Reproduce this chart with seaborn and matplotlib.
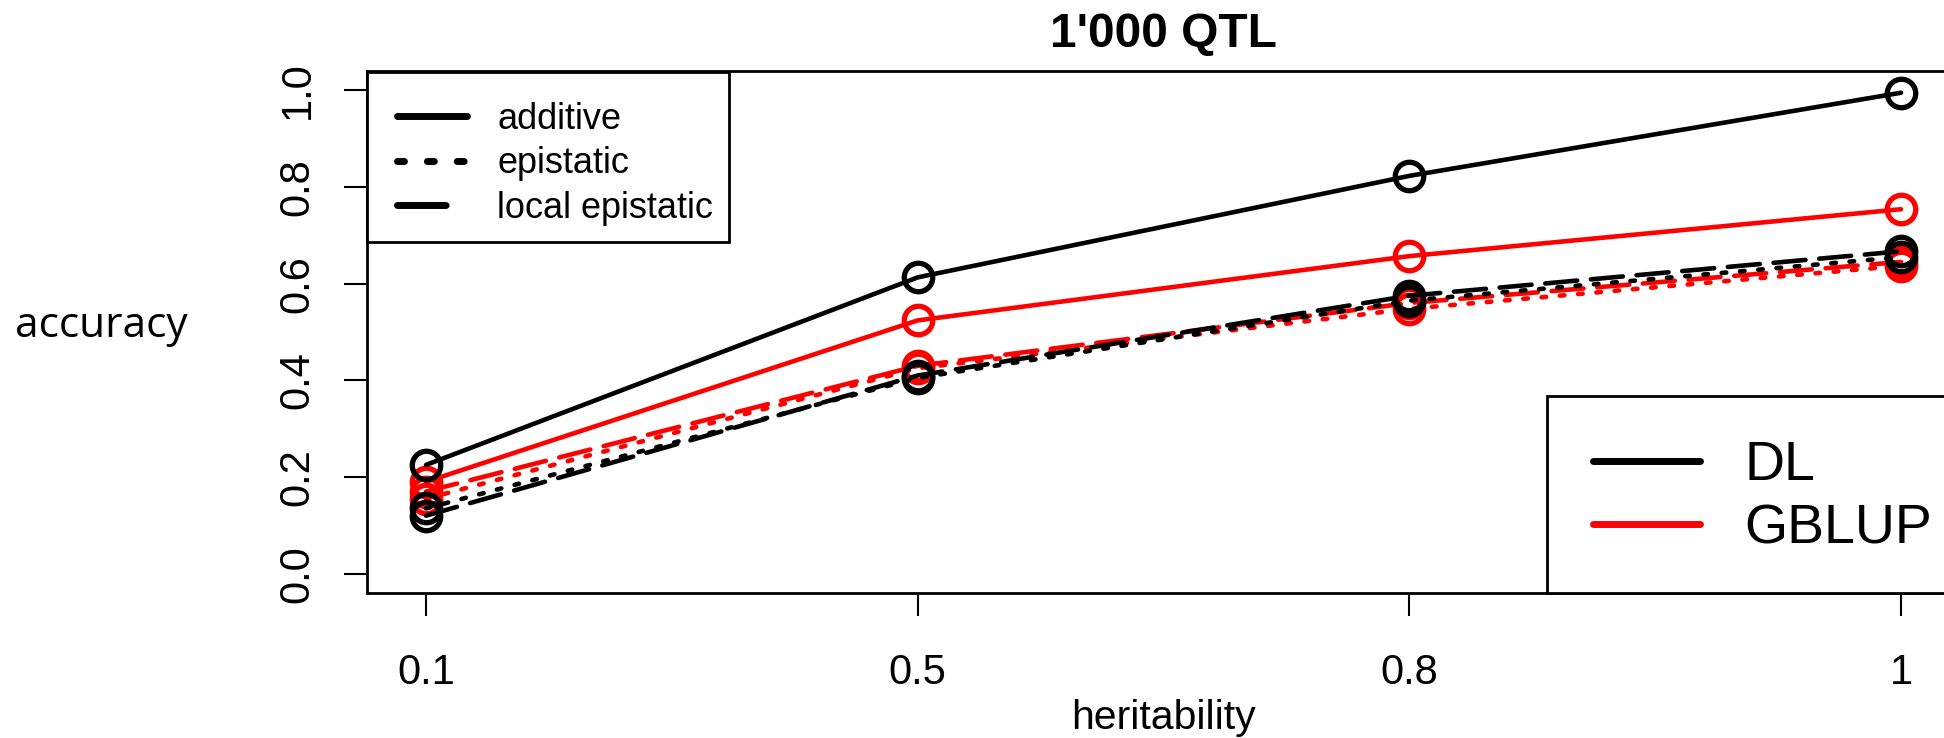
import numpy as np
import pandas as pd
import matplotlib
matplotlib.use("Agg")
import matplotlib.pyplot as plt
from matplotlib.lines import Line2D
from matplotlib.patches import Rectangle
import seaborn as sns

# ── Data ───────────────────────────────
heritability = ["0.1", "0.5", "0.8", "1"]

dl_additive = [0.225, 0.613, 0.823, 0.995]
dl_epistatic = [0.135, 0.405, 0.565, 0.655]
dl_local = [0.12, 0.41, 0.575, 0.667]

gblup_additive = [0.19, 0.524, 0.657, 0.754]
gblup_epistatic = [0.155, 0.425, 0.548, 0.637]
gblup_local = [0.17, 0.43, 0.56, 0.645]

series = {
    ("GBLUP", "additive"): gblup_additive,
    ("GBLUP", "epistatic"): gblup_epistatic,
    ("GBLUP", "local epistatic"): gblup_local,
    ("DL", "additive"): dl_additive,
    ("DL", "epistatic"): dl_epistatic,
    ("DL", "local epistatic"): dl_local,
}

rows = []
for (method, kind), vals in series.items():
    for h, v in zip(heritability, vals):
        rows.append({"heritability": h, "accuracy": v, "method": method, "type": kind})
df = pd.DataFrame(rows)

colors = {"DL": "black", "GBLUP": "red"}
dashes = {"additive": "", "epistatic": (1, 3), "local epistatic": (7, 3)}
# legend samples use a thicker pen, so the pattern is stretched a little
legend_dashes = {"additive": "", "epistatic": (1, 3.3), "local epistatic": (7, 4.2)}

# ── Figure ─────────────────────────────
sns.set_theme(style="ticks")
plt.rcParams["font.family"] = ["Liberation Sans", "DejaVu Sans"]
plt.rcParams.update({"text.color": "black", "axes.labelcolor": "black",
                     "xtick.color": "black", "ytick.color": "black"})

W, H = 1944, 738
AX_L, AX_R, AX_T, AX_B = 367, 1960, 71, 593   # plot box in pixels (right edge is off-canvas)
aw, ah = AX_R - AX_L, AX_B - AX_T

fig = plt.figure(figsize=(W / 100, H / 100), dpi=100)
ax = fig.add_axes([AX_L / W, 1 - AX_B / H, aw / W, ah / H])


def fx(px):
    return (px - AX_L) / aw


def fy(py):
    return (AX_B - py) / ah


sns.lineplot(data=df, x="heritability", y="accuracy", hue="method", style="type",
             palette=colors, dashes=dashes, hue_order=["GBLUP", "DL"],
             marker="o", markersize=20.5, linewidth=3.3, errorbar=None,
             legend=False, ax=ax)

for line in ax.lines:
    line.set_markerfacecolor("none")
    line.set_markeredgecolor(line.get_color())
    line.set_markeredgewidth(3.8)
    line.set_dash_capstyle("round")
    line.set_solid_capstyle("round")

ax.set_xlim(-0.12, 3.12)
ax.set_ylim(-0.04, 1.04)
yt = np.arange(0, 1.01, 0.2)
ax.set_yticks(yt)
ax.set_yticklabels([f"{v:.1f}" for v in yt])

for s in ax.spines.values():
    s.set_color("black")
    s.set_linewidth(2)

ax.tick_params(axis="both", length=16.5, width=1.5, labelsize=30, direction="out")
ax.tick_params(axis="x", pad=27)
ax.tick_params(axis="y", pad=19)
for lab in ax.get_yticklabels():
    lab.set_rotation(90)
    lab.set_va("center")

ax.set_title("1'000 QTL", fontsize=34.5, fontweight="bold", pad=17)
ax.set_xlabel("heritability", fontsize=29.5, labelpad=4)
ax.set_ylabel("accuracy", fontsize=30.5, rotation=0, ha="left", va="center",
              family=["Open Sans", "DejaVu Sans"])
ax.yaxis.set_label_coords(fx(15), 0.512)

# ── Legend boxes ───────────────────────
for x0, y0, x1, y1 in [(367, 71.7, 729, 241.7), (1547, 395.7, AX_R, AX_B)]:
    ax.add_patch(Rectangle((fx(x0), fy(y1)), fx(x1) - fx(x0), fy(y0) - fy(y1),
                           transform=ax.transAxes, facecolor="white",
                           edgecolor="black", lw=2, zorder=4, clip_on=False))

# ── Legends ────────────────────────────
type_handles = []
for t, d in legend_dashes.items():
    h = Line2D([], [], color="black", lw=5, dash_capstyle="round", solid_capstyle="round")
    if d:
        h.set_dashes(d)
    type_handles.append(h)

fs1 = 26
leg1 = ax.legend(type_handles, list(legend_dashes), loc="upper left",
                 bbox_to_anchor=(fx(397), fy(116 - 0.39 * fs1 / 0.72)),
                 borderaxespad=0, borderpad=0, fontsize=fs1, handlelength=1.95,
                 handletextpad=0.82, labelspacing=0.26, frameon=False)
ax.add_artist(leg1)

fs2 = 40
method_handles = [Line2D([], [], color=colors[m], lw=5, solid_capstyle="round")
                  for m in ["DL", "GBLUP"]]
leg2 = ax.legend(method_handles, ["DL", "GBLUP"], loc="upper left",
                 bbox_to_anchor=(fx(1593), fy(462 - 0.39 * fs2 / 0.72)),
                 borderaxespad=0, borderpad=0, fontsize=fs2, handlelength=1.92,
                 handletextpad=0.8, labelspacing=0.2, frameon=False)

fig.savefig("out.png", dpi=100)
